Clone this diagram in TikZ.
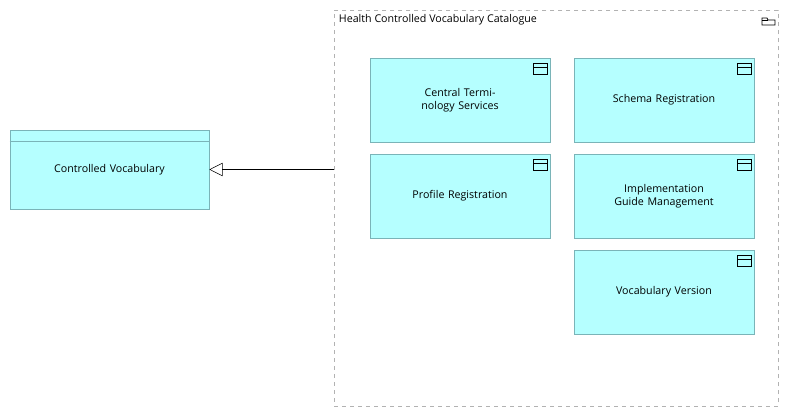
\documentclass[tikz,border=0pt]{standalone}
\usepackage{fontspec}
\setmainfont{Open Sans}
\usetikzlibrary{arrows.meta,positioning,calc}
\definecolor{objFill}{HTML}{B5FFFF}
\definecolor{objLine}{HTML}{7AB4B8}
\tikzset{
  dataObj/.style={draw=objLine,fill=objFill,minimum width=180*0.75pt,minimum height=84*0.75pt,
    inner sep=1pt,align=center,text width=120*0.75pt,font=\fontsize{8}{10}\selectfont},
  objIcon/.style={draw,line width=0.6pt},
}
\newcommand{\objmark}[1]{%
  \draw[objIcon] ($(#1.north east)+(-17*0.75pt,-6*0.75pt)$) rectangle ($(#1.north east)+(-3*0.75pt,-17*0.75pt)$);
  \draw[objIcon] ($(#1.north east)+(-17*0.75pt,-10*0.75pt)$) -- ($(#1.north east)+(-3*0.75pt,-10*0.75pt)$);}
\begin{document}
\begin{tikzpicture}[x=0.75pt,y=-0.75pt]
\useasboundingbox (0,0) rectangle (789,417);

% ===== Grouping =====
\node[draw=gray!60,dashed,line width=0.6pt,minimum width=444*0.75pt,minimum height=396*0.75pt,anchor=north west]
  (catalogue) at (334,10) {};
\node[anchor=north west,font=\fontsize{8}{10}\selectfont,inner sep=2pt] (catLabel) at (336,11) {Health Controlled Vocabulary Catalogue};
\draw[line width=0.6pt] (762,18) -- (762,25) -- (775,25) -- (775,20) -- (768,20) -- (767,18) -- cycle;
\draw[line width=0.6pt] (762,20) -- (768,20);

% ===== Objects inside =====
\node[dataObj] (cts) at (460,100) {Central Terminology Services};
\node[dataObj] (schema) at (664,100) {Schema Registration};
\node[dataObj] (profile) at (460,196) {Profile Registration};
\node[dataObj] (implGuide) at (664,196) {Implementation Guide Management};
\node[dataObj] (vocabVer) at (664,292) {Vocabulary Version};
\foreach \n in {cts,schema,profile,implGuide,vocabVer} {\objmark{\n}}

% ===== Controlled Vocabulary =====
\node[dataObj,minimum width=199*0.75pt,minimum height=79*0.75pt] (ctrlVocab) at (109.5,169.5) {Controlled Vocabulary};
\draw[objLine] ($(ctrlVocab.north west)+(0,12)$) -- ($(ctrlVocab.north east)+(0,12)$);

% ===== Specialisation =====
\coordinate (catEdge) at (catalogue.west |- ctrlVocab.east);
\draw[-{Triangle[open,length=10pt,width=10pt]},fill=white] (catEdge) -- (ctrlVocab.east);

\end{tikzpicture}
\end{document}
